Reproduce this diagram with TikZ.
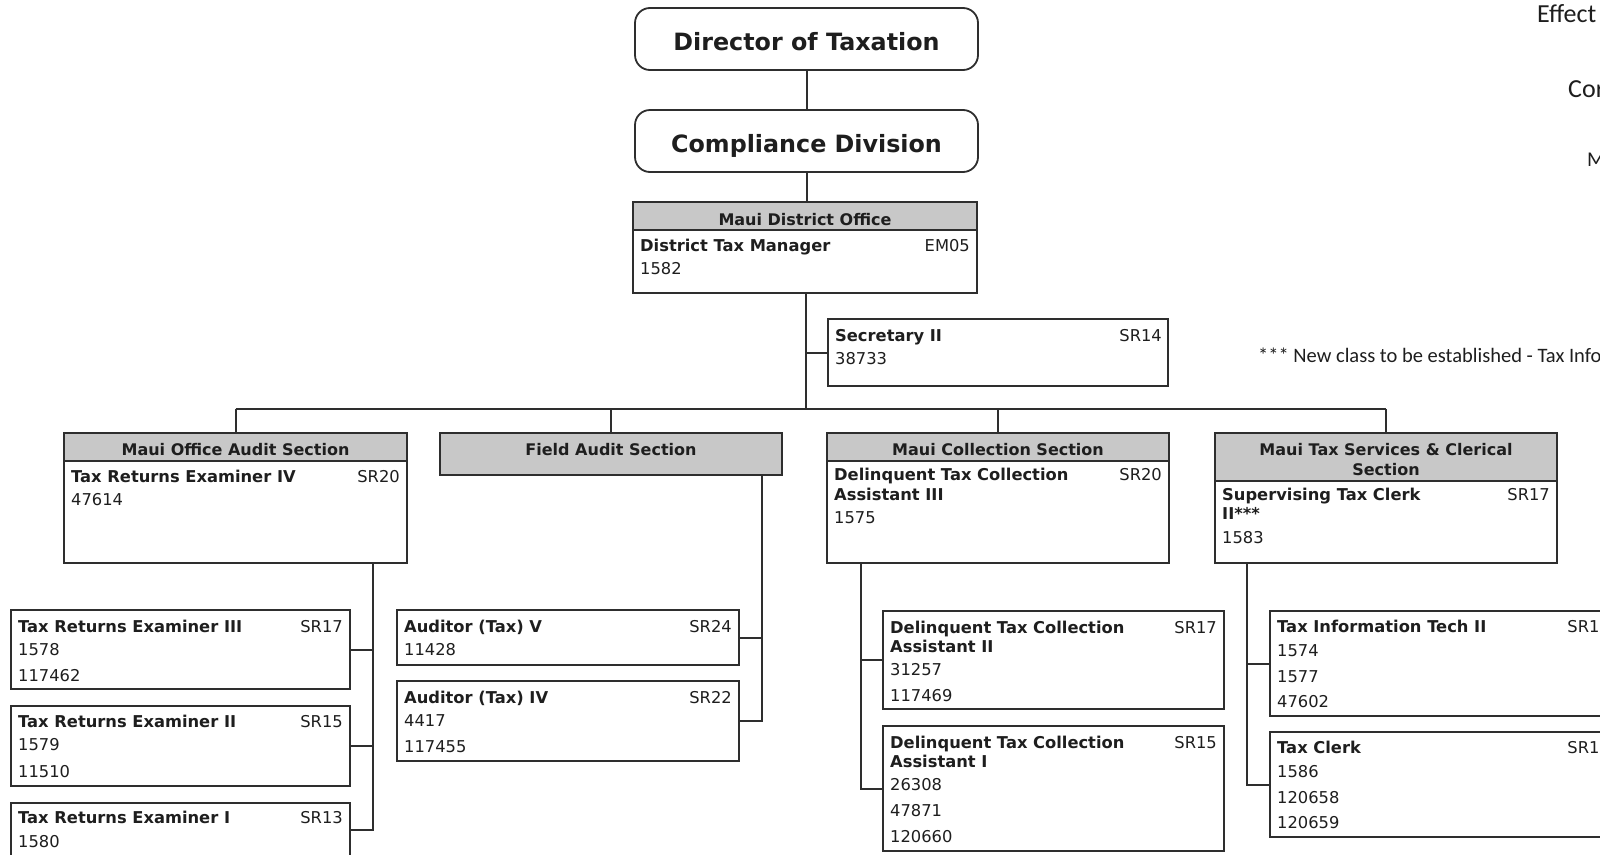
\documentclass[tikz,border=0pt]{standalone}
\usepackage{fontspec}
\setmainfont{DejaVu Sans}
\newfontfamily\calfont{Carlito}
\definecolor{ln}{HTML}{2E2E2E}
\definecolor{hdr}{HTML}{C8C8C8}
\definecolor{tx}{HTML}{1E1E1E}
\newcommand\mkbox[6][box]{\node[#1,minimum width={#4-#2},minimum height={#5-#3}] (#6) at (#2,#3) {};}
\begin{document}
\begin{tikzpicture}[x=1pt,y=-1pt,
 box/.style={draw=ln,line width=1.8pt,fill=white,inner sep=0pt,outer sep=0pt,anchor=north west},
 hbox/.style={box,fill=hdr},
 rbox/.style={box,rounded corners=15pt,line width=1.8pt},
 ttl/.style={font=\fontsize{16.3}{19}\selectfont\bfseries,text=tx,inner sep=0pt,anchor=base west},
 num/.style={font=\fontsize{16.3}{19}\selectfont,text=tx,inner sep=0pt,anchor=base west},
 grd/.style={num,anchor=base east},
 htx/.style={font=\fontsize{16}{20}\selectfont\bfseries,text=tx,inner sep=0pt,anchor=base},
 big/.style={font=\fontsize{23.8}{28}\selectfont\bfseries,text=tx,inner sep=0pt,anchor=base},
 note/.style={font=\calfont\fontsize{20.5}{24}\selectfont,text=tx,inner sep=0pt,anchor=base west},
 wire/.style={draw=ln,line width=2pt}]

\fill[white] (0,0) rectangle (1600,854);
\useasboundingbox (0,0) rectangle (1600,854);

% ---------- top-right notes ----------
\node[note,font=\calfont\fontsize{26}{30}\selectfont] (n1) at (1537,22) {Effect};
\node[note,font=\calfont\fontsize{26}{30}\selectfont] (n2) at (1568,97) {Cor};
\node[note,font=\calfont\fontsize{21}{25}\selectfont] (n3) at (1587,166) {M};
\node[note] (n4) at (1258,362) {*** New class to be established - Tax Info};

% ---------- top chain ----------
\mkbox[rbox]{635}{8}{978}{70}{dir}
\node[big] (dirt) at (806.5,50) {Director of Taxation};
\mkbox[rbox]{635}{110}{978}{172}{comp}
\node[big] (compt) at (806.5,152) {Compliance Division};

\mkbox{633}{202}{977}{293}{mdo}
\mkbox[hbox]{633}{202}{977}{230}{mdoh}
\node[htx] (mdoht) at (805,225) {Maui District Office};
\node[ttl] (mdot) at (640,251) {District Tax Manager};
\node[grd] (mdog) at (970,251) {EM05};
\node[num] (mdon) at (640,274) {1582};

\mkbox{828}{319}{1168}{386}{sec}
\node[ttl] (sect) at (835,341) {Secretary II};
\node[grd] (secg) at (1162,341) {SR14};
\node[num] (secn) at (835,364) {38733};

% ---------- sections ----------
\mkbox{64}{433}{407}{563}{aud}
\mkbox[hbox]{64}{433}{407}{461}{audh}
\node[htx] (audht) at (235.5,455) {Maui Office Audit Section};
\node[ttl] (audt) at (71,482) {Tax Returns Examiner IV};
\node[grd] (audg) at (400,482) {SR20};
\node[num] (audn) at (71,505) {47614};

\mkbox[hbox]{440}{433}{782}{475}{fld}
\node[htx] (fldt) at (611,455) {Field Audit Section};

\mkbox{827}{433}{1169}{563}{col}
\mkbox[hbox]{827}{433}{1169}{461}{colh}
\node[htx] (colht) at (998,455) {Maui Collection Section};
\node[ttl] (colt1) at (834,480) {Delinquent Tax Collection};
\node[ttl] (colt2) at (834,500) {Assistant III};
\node[grd] (colg) at (1162,480) {SR20};
\node[num] (coln) at (834,523) {1575};

\mkbox{1215}{433}{1557}{563}{svc}
\mkbox[hbox]{1215}{433}{1557}{481}{svch}
\node[htx] (svht1) at (1386,455) {Maui Tax Services \& Clerical};
\node[htx] (svht2) at (1386,475) {Section};
\node[ttl] (svct1) at (1222,500) {Supervising Tax Clerk};
\node[ttl] (svct2) at (1222,519) {II***};
\node[grd] (svcg) at (1550,500) {SR17};
\node[num] (svcn) at (1222,543) {1583};

% ---------- audit positions ----------
\mkbox{11}{610}{350}{689}{tre3}
\node[ttl] (tre3t) at (18,632) {Tax Returns Examiner III};
\node[grd] (tre3g) at (343,632) {SR17};
\node[num] (tre3a) at (18,655) {1578};
\node[num] (tre3b) at (18,681) {117462};

\mkbox{11}{706}{350}{786}{tre2}
\node[ttl] (tre2t) at (18,727) {Tax Returns Examiner II};
\node[grd] (tre2g) at (343,727) {SR15};
\node[num] (tre2a) at (18,750) {1579};
\node[num] (tre2b) at (18,777) {11510};

\mkbox{11}{803}{350}{856}{tre1}
\node[ttl] (tre1t) at (18,823) {Tax Returns Examiner I};
\node[grd] (tre1g) at (343,823) {SR13};
\node[num] (tre1a) at (18,847) {1580};

% ---------- field audit positions ----------
\mkbox{397}{610}{739}{665}{a5}
\node[ttl] (a5t) at (404,632) {Auditor (Tax) V};
\node[grd] (a5g) at (732,632) {SR24};
\node[num] (a5a) at (404,655) {11428};

\mkbox{397}{681}{739}{761}{a4}
\node[ttl] (a4t) at (404,703) {Auditor (Tax) IV};
\node[grd] (a4g) at (732,703) {SR22};
\node[num] (a4a) at (404,726) {4417};
\node[num] (a4b) at (404,752) {117455};

% ---------- collection positions ----------
\mkbox{883}{611}{1224}{709}{d2}
\node[ttl] (d2t1) at (890,633) {Delinquent Tax Collection};
\node[ttl] (d2t2) at (890,652) {Assistant II};
\node[grd] (d2g) at (1217,633) {SR17};
\node[num] (d2a) at (890,675) {31257};
\node[num] (d2b) at (890,701) {117469};

\mkbox{883}{726}{1224}{851}{d1}
\node[ttl] (d1t1) at (890,748) {Delinquent Tax Collection};
\node[ttl] (d1t2) at (890,767) {Assistant I};
\node[grd] (d1g) at (1217,748) {SR15};
\node[num] (d1a) at (890,790) {26308};
\node[num] (d1b) at (890,816) {47871};
\node[num] (d1c) at (890,842) {120660};

% ---------- services positions ----------
\mkbox{1270}{611}{1617}{716}{tit}
\node[ttl] (titt) at (1277,632) {Tax Information Tech II};
\node[grd] (titg) at (1610,632) {SR15};
\node[num] (tita) at (1277,656) {1574};
\node[num] (titb) at (1277,682) {1577};
\node[num] (titc) at (1277,707) {47602};

\mkbox{1270}{732}{1617}{837}{clk}
\node[ttl] (clkt) at (1277,753) {Tax Clerk};
\node[grd] (clkg) at (1610,753) {SR12};
\node[num] (clka) at (1277,777) {1586};
\node[num] (clkb) at (1277,803) {120658};
\node[num] (clkc) at (1277,828) {120659};

% ---------- connectors ----------
\coordinate (bus) at (806,409);
\coordinate (audtr) at (373,0);
\coordinate (fldtr) at (762,0);
\coordinate (coltr) at (861,0);
\coordinate (svctr) at (1247,0);

\draw[wire] (dir.south) -- (comp.north);
\draw[wire] (comp.south) -- (comp.south |- mdo.north);
\draw[wire] (mdo.south -| bus) -- (bus);
\draw[wire] (sec.west) -- (sec.west -| bus);
\draw[wire] (aud.north |- bus) -- (svc.north |- bus);
\draw[wire] (aud.north |- bus) -- (aud.north);
\draw[wire] (fld.north |- bus) -- (fld.north);
\draw[wire] (col.north |- bus) -- (col.north);
\draw[wire] (svc.north |- bus) -- (svc.north);

\draw[wire] (audtr |- aud.south) -- (audtr |- tre1.east) -- (tre1.east);
\draw[wire] (tre3.east) -- (tre3.east -| audtr);
\draw[wire] (tre2.east) -- (tre2.east -| audtr);

\draw[wire] (fldtr |- fld.south) -- (fldtr |- a4.east) -- (a4.east);
\draw[wire] (a5.east) -- (a5.east -| fldtr);

\draw[wire] (coltr |- col.south) -- (coltr |- d1.west) -- (d1.west);
\draw[wire] (d2.west) -- (d2.west -| coltr);

\draw[wire] (svctr |- svc.south) -- (svctr |- clk.west) -- (clk.west);
\draw[wire] (tit.west) -- (tit.west -| svctr);
\end{tikzpicture}
\end{document}
